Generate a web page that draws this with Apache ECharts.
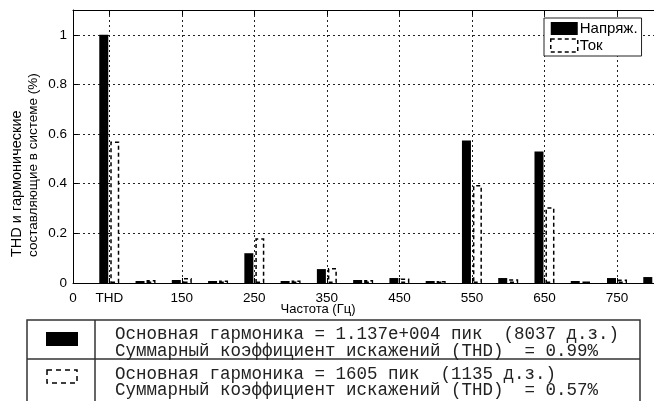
<!DOCTYPE html>
<html><head><meta charset="utf-8">
<script src="https://cdn.jsdelivr.net/npm/echarts@6/dist/echarts.min.js"></script>
<style>html,body{margin:0;padding:0;background:#fff}#c{width:654px;height:401px}</style>
</head><body><div id="c"></div>
<script>
// Frequencies (Hz); 50 Hz is labelled "THD"
const freqs = [50,100,150,200,250,300,350,400,450,500,550,600,650,700,750,800];
const voltage = [1.0,0.008,0.012,0.008,0.12,0.008,0.056,0.012,0.02,0.008,0.574,0.02,0.53,0.008,0.02,0.024];
const current = [0.57,0.012,0.02,0.01,0.18,0.01,0.06,0.012,0.018,0.008,0.395,0.015,0.305,0.006,0.014,0.015];
const xTicks = [0,50,150,250,350,450,550,650,750];
const xTickLabels = ['0','THD','150','250','350','450','550','650','750'];
const seriesNames = ['Напряж.','Ток'];
const yName1 = 'THD и гармонические';
const yName2 = 'составляющие в системе (%)';
const xName = 'Частота (Гц)';
const row1 = ['Основная гармоника = 1.137e+004 пик  (8037 д.з.)','Суммарный коэффициент искажений (THD)  = 0.99%'];
const row2 = ['Основная гармоника = 1605 пик  (1135 д.з.)','Суммарный коэффициент искажений (THD)  = 0.57%'];

const chart = echarts.init(document.getElementById('c'));
const font = 'Liberation Sans, Arial, sans-serif';
const mono = 'Liberation Mono, Courier New, monospace';
const gridLine = {show:true, lineStyle:{color:'#222', type:[2,3], width:1}};
const dashedStyle = {color:'#fff', borderColor:'#000', borderType:[4,3], borderWidth:1.5};

chart.setOption({
  animation:false,
  backgroundColor:'#fff',
  grid:{left:73, top:10, right:0, height:273, show:false, containLabel:false},
  legend:{
    left:544, top:18, orient:'vertical', icon:'rect', itemWidth:27, itemHeight:13, itemGap:2,
    padding:[3,4,3,6], borderColor:'#222', borderWidth:1, backgroundColor:'#fff',
    textStyle:{fontFamily:font, fontSize:15, color:'#000', padding:[0,0,0,-3]},
    data:[{name:seriesNames[0], itemStyle:{color:'#000'}},{name:seriesNames[1], itemStyle:dashedStyle}]
  },
  xAxis:[{
    type:'value', min:0, max:801, position:'bottom',
    axisLine:{show:true, lineStyle:{color:'#000'}},
    axisTick:{show:true, inside:true, length:5, customValues:xTicks, lineStyle:{color:'#000'}},
    axisLabel:{show:true, customValues:xTicks, color:'#000', fontFamily:font, fontSize:13.5, margin:8,
      formatter:function(v){const i=xTicks.indexOf(v);return i>=0?xTickLabels[i]:'';}},
    splitLine:gridLine
  },{
    type:'value', min:0, max:801, position:'top',
    axisLine:{show:true, lineStyle:{color:'#000'}},
    axisTick:{show:true, inside:true, length:5, customValues:xTicks, lineStyle:{color:'#000'}},
    axisLabel:{show:false}, splitLine:{show:false}
  }],
  yAxis:{
    type:'value', min:0, max:1.1, interval:0.2,
    axisLine:{show:true, lineStyle:{color:'#000'}},
    axisTick:{show:true, inside:true, length:5, lineStyle:{color:'#000'}},
    axisLabel:{color:'#000', fontFamily:font, fontSize:13.5, margin:6, showMaxLabel:false},
    splitLine:gridLine
  },
  series:[{
    name:seriesNames[0], type:'bar', xAxisIndex:0,
    data:freqs.map((f,i)=>[f,voltage[i]]),
    barWidth:9, barGap:'22%',
    itemStyle:{color:'#000'}
  },{
    name:seriesNames[1], type:'bar', xAxisIndex:0,
    data:freqs.map((f,i)=>[f,current[i]]),
    barWidth:9, barGap:'22%',
    itemStyle:dashedStyle
  }],
  graphic:[
    {type:'text', x:17, y:257, rotation:Math.PI/2, style:{text:yName1, fontFamily:font, fontSize:14.5, fill:'#000', align:'left', verticalAlign:'middle'}},
    {type:'text', x:33, y:257, rotation:Math.PI/2, style:{text:yName2, fontFamily:font, fontSize:13.5, fill:'#000', align:'left', verticalAlign:'middle'}},
    {type:'text', x:318, y:309, style:{text:xName, fontFamily:font, fontSize:13, fill:'#000', align:'center', verticalAlign:'middle'}},
    {type:'rect', shape:{x:27, y:320, width:613, height:110}, style:{fill:'none', stroke:'#333', lineWidth:1.5}},
    {type:'line', shape:{x1:95, y1:320, x2:95, y2:401}, style:{stroke:'#333', lineWidth:1.5}},
    {type:'line', shape:{x1:27, y1:359, x2:640, y2:359}, style:{stroke:'#333', lineWidth:1.5}},
    {type:'rect', shape:{x:46, y:332, width:32, height:14}, style:{fill:'#000'}},
    {type:'rect', shape:{x:47, y:370, width:30, height:13}, style:{fill:'#fff', stroke:'#000', lineWidth:1.5, lineDash:[5,4]}},
    {type:'text', x:115, y:334, style:{text:row1[0], fontFamily:mono, fontSize:17.5, fill:'#222', verticalAlign:'middle'}},
    {type:'text', x:115, y:351, style:{text:row1[1], fontFamily:mono, fontSize:17.5, fill:'#222', verticalAlign:'middle'}},
    {type:'text', x:115, y:374, style:{text:row2[0], fontFamily:mono, fontSize:17.5, fill:'#222', verticalAlign:'middle'}},
    {type:'text', x:115, y:390, style:{text:row2[1], fontFamily:mono, fontSize:17.5, fill:'#222', verticalAlign:'middle'}}
  ]
});
</script></body></html>
